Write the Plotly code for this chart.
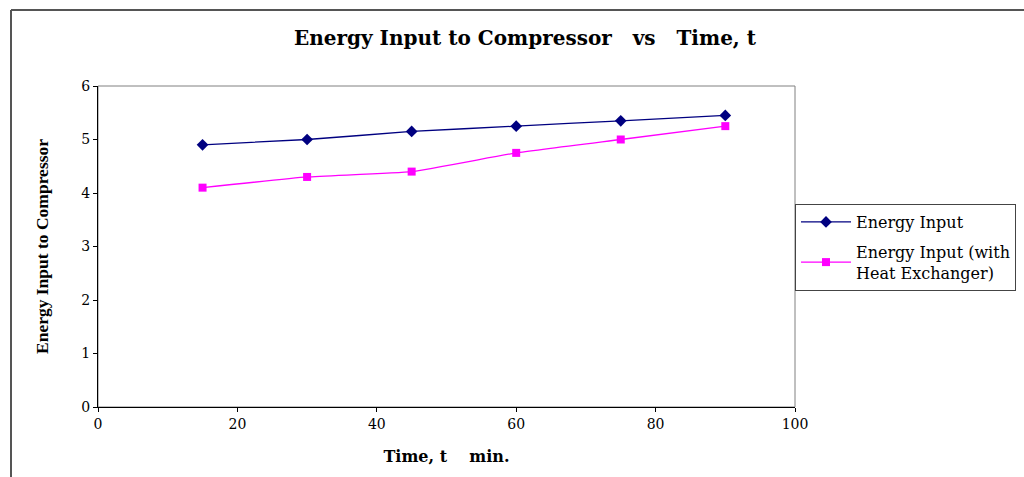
import plotly.graph_objects as go

time_min = [15, 30, 45, 60, 75, 90]
energy_input = [4.9, 5.0, 5.15, 5.25, 5.35, 5.45]
energy_input_hx = [4.1, 4.3, 4.4, 4.75, 5.0, 5.25]

W, H = 1024, 477
L, R, T, B = 98, 795, 86, 407

def px(x):
    return (x - L) / (R - L)

def py(y):
    return (B - y) / (B - T)

wide = "DejaVu Serif, Liberation Serif, serif"
serif = "Liberation Serif, Times New Roman, serif"

fig = go.Figure()
fig.add_trace(go.Scatter(
    x=time_min, y=energy_input, name="Energy Input", mode="lines+markers",
    line=dict(color="#000080", width=1.3, shape="spline", smoothing=0.4),
    marker=dict(symbol="diamond", size=9, color="#000080"),
    legendgroup="a"))
fig.add_trace(go.Scatter(
    x=time_min, y=energy_input_hx, name="Energy Input (with<br>Heat Exchanger)",
    mode="lines+markers",
    line=dict(color="#FF00FF", width=1.3, shape="spline", smoothing=0.4),
    marker=dict(symbol="square", size=8, color="#FF00FF"),
    legendgroup="b"))

fig.update_layout(
    width=W, height=H,
    margin=dict(l=L, r=W - R, t=T, b=H - B, autoexpand=False),
    paper_bgcolor="white", plot_bgcolor="white",
    font=dict(family=wide, size=14, color="black"),
    title=dict(text="Energy Input to Compressor\u00a0\u00a0\u00a0vs\u00a0\u00a0\u00a0Time, t",
               x=525 / W, xanchor="center", y=1 - 38 / H, yanchor="middle",
               font=dict(family=wide, size=20, color="black", weight="bold")),
    xaxis=dict(range=[0, 100], dtick=20, showgrid=False, zeroline=False,
               showline=True, linecolor="black", linewidth=1,
               ticks="outside", ticklen=4, tickcolor="black",
               tickfont=dict(family=wide, size=14),
               title=dict(text="Time, t\u00a0\u00a0\u00a0\u00a0min.", standoff=20,
                          font=dict(family=wide, size=16, weight="bold"))),
    yaxis=dict(range=[0, 6], dtick=1, showgrid=False, zeroline=False,
               showline=True, linecolor="black", linewidth=1,
               ticks="outside", ticklen=4, tickcolor="black",
               tickfont=dict(family=wide, size=14),
               title=dict(text="Energy Input to Compressor", standoff=28,
                          font=dict(family=serif, size=17.5, weight="bold"))),
    legend=dict(xref="container", yref="container", x=R / W, xanchor="left",
                y=1 - 204 / H, yanchor="top",
                bordercolor="#444", borderwidth=1, bgcolor="white",
                font=dict(family=wide, size=16),
                traceorder="grouped", tracegroupgap=6,
                itemwidth=50),
    showlegend=True,
)

# plot-area border (top and right)
fig.add_shape(type="rect", xref="paper", yref="paper", x0=0, x1=1, y0=0, y1=1,
              line=dict(color="#808080", width=1), layer="below")
# outer chart-area border
fig.add_shape(type="line", xref="paper", yref="paper", x0=px(11), x1=px(W + 5),
              y0=py(10), y1=py(10), line=dict(color="#555555", width=2))
fig.add_shape(type="line", xref="paper", yref="paper", x0=px(11), x1=px(11),
              y0=py(10), y1=py(H + 5), line=dict(color="#555555", width=2))

fig.write_html("out.html")
